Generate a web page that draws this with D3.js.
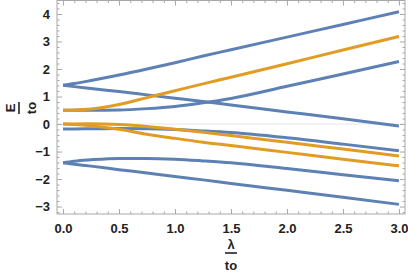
<!DOCTYPE html>
<html><head><meta charset="utf-8">
<script src="https://cdn.jsdelivr.net/npm/d3@7"></script>
<style>body{margin:0;background:#fff} svg{display:block}</style>
</head><body><svg id="c" width="408" height="273"></svg>
<script>
// lambda / t0 sample positions
const lambdaVals = [0, 0.1, 0.25, 0.5, 0.75, 1.0, 1.25, 1.5, 2.0, 2.5, 3.0];
// blue branches (E / t0)
const blue1 = [1.41, 1.47, 1.58, 1.78, 2.00, 2.23, 2.47, 2.70, 3.16, 3.62, 4.08];
const blue2 = [1.41, 1.36, 1.29, 1.18, 1.06, 0.94, 0.82, 0.69, 0.44, 0.19, -0.07];
const blue3 = [0.50, 0.50, 0.50, 0.51, 0.56, 0.64, 0.77, 0.93, 1.37, 1.82, 2.27];
const blue4 = [-0.18, -0.18, -0.17, -0.16, -0.17, -0.20, -0.25, -0.31, -0.50, -0.73, -0.97];
const blue5 = [-1.41, -1.35, -1.30, -1.25, -1.25, -1.28, -1.34, -1.41, -1.62, -1.84, -2.06];
const blue6 = [-1.41, -1.46, -1.53, -1.66, -1.78, -1.91, -2.03, -2.16, -2.41, -2.66, -2.92];
// orange branches (E / t0)
const orange1 = [0.50, 0.51, 0.55, 0.71, 0.96, 1.21, 1.46, 1.70, 2.19, 2.69, 3.18];
const orange2 = [0.00, 0.005, 0.01, -0.02, -0.09, -0.19, -0.30, -0.42, -0.66, -0.91, -1.16];
const orange3 = [0.00, -0.015, -0.06, -0.19, -0.37, -0.52, -0.66, -0.78, -1.03, -1.28, -1.52];

const xTicks = [0, 0.5, 1.0, 1.5, 2.0, 2.5, 3.0];
const xTickLabels = ["0.0", "0.5", "1.0", "1.5", "2.0", "2.5", "3.0"];
const yTicks = [-3, -2, -1, 0, 1, 2, 3, 4];
const yTickLabels = ["\u22123", "\u22122", "\u22121", "0", "1", "2", "3", "4"];

const blueSeries = [blue1, blue2, blue3, blue4, blue5, blue6];
const orangeSeries = [orange1, orange2, orange3];

const BLUE = "#5e81b5", ORANGE = "#e19c24", FRAME = "#a8a8a8";
const L = 57, R = 405, T = 0.5, B = 214;

const svg = d3.select("#c");
const x = d3.scaleLinear().domain([-0.054, 3.054]).range([L, R]);
const y = d3.scaleLinear().domain([-3.27, 4.49]).range([B, T]);

// zero axis line
svg.append("line").attr("x1", L).attr("x2", R).attr("y1", y(0)).attr("y2", y(0))
  .attr("stroke", "#e6e6e6").attr("stroke-width", 1);

const line = d3.line().x((d, i) => x(lambdaVals[i])).y(d => y(d)).curve(d3.curveMonotoneX);
const plot = svg.append("g");
blueSeries.forEach(s => plot.append("path").attr("d", line(s)).attr("fill", "none")
  .attr("stroke", BLUE).attr("stroke-width", 3).attr("stroke-linejoin", "round"));
orangeSeries.forEach(s => plot.append("path").attr("d", line(s)).attr("fill", "none")
  .attr("stroke", ORANGE).attr("stroke-width", 3).attr("stroke-linejoin", "round"));

// frame
svg.append("rect").attr("x", L).attr("y", T).attr("width", R - L).attr("height", B - T)
  .attr("fill", "none").attr("stroke", FRAME).attr("stroke-width", 1);

const font = "'Liberation Sans', Arial, sans-serif";
const xMinor = d3.range(0, 3.001, 0.1).filter(v => Math.abs(v * 2 - Math.round(v * 2)) > 1e-6);
const yMinor = d3.range(-3.2, 4.41, 0.2).filter(v => Math.abs(v - Math.round(v)) > 1e-6);

function styleAxis(g) {
  g.select(".domain").remove();
  g.selectAll("line").attr("stroke", FRAME);
  g.selectAll("text").attr("font-family", font).attr("font-size", 13).attr("font-weight", "bold").attr("fill", "#222");
}
// bottom
svg.append("g").attr("transform", `translate(0,${B})`)
  .call(d3.axisBottom(x).tickValues(xTicks).tickSizeInner(-5).tickSizeOuter(0).tickPadding(10)
    .tickFormat((d, i) => xTickLabels[i])).call(styleAxis);
svg.append("g").attr("transform", `translate(0,${B})`)
  .call(d3.axisBottom(x).tickValues(xMinor).tickSize(-2.5).tickFormat("")).call(styleAxis);
// top
svg.append("g").attr("transform", `translate(0,${T})`)
  .call(d3.axisTop(x).tickValues(xTicks).tickSize(-5).tickFormat("")).call(styleAxis);
svg.append("g").attr("transform", `translate(0,${T})`)
  .call(d3.axisTop(x).tickValues(xMinor).tickSize(-2.5).tickFormat("")).call(styleAxis);
// left
svg.append("g").attr("transform", `translate(${L},0)`)
  .call(d3.axisLeft(y).tickValues(yTicks).tickSizeInner(-5).tickSizeOuter(0).tickPadding(7)
    .tickFormat((d, i) => yTickLabels[i])).call(styleAxis);
svg.append("g").attr("transform", `translate(${L},0)`)
  .call(d3.axisLeft(y).tickValues(yMinor).tickSize(-2.5).tickFormat("")).call(styleAxis);
// right
svg.append("g").attr("transform", `translate(${R},0)`)
  .call(d3.axisRight(y).tickValues(yTicks).tickSize(-5).tickFormat("")).call(styleAxis);
svg.append("g").attr("transform", `translate(${R},0)`)
  .call(d3.axisRight(y).tickValues(yMinor).tickSize(-2.5).tickFormat("")).call(styleAxis);

// axis labels (fractions)
function frac(g, num, den) {
  g.append("text").attr("x", 0).attr("y", -4.5).attr("text-anchor", "middle").text(num)
    .attr("font-family", font).attr("font-size", 13).attr("font-weight", "bold").attr("fill", "#222");
  g.append("line").attr("x1", -6).attr("x2", 6).attr("y1", 0).attr("y2", 0)
    .attr("stroke", "#222").attr("stroke-width", 1.6);
  g.append("text").attr("x", 0).attr("y", 17).attr("text-anchor", "middle").text(den)
    .attr("font-family", font).attr("font-size", 13).attr("font-weight", "bold").attr("fill", "#222");
}
frac(svg.append("g").attr("transform", `translate(${(L + R) / 2},253)`), "\u03bb", "to");
frac(svg.append("g").attr("transform", "translate(19,108) rotate(-90)"), "E", "to");
</script></body></html>
